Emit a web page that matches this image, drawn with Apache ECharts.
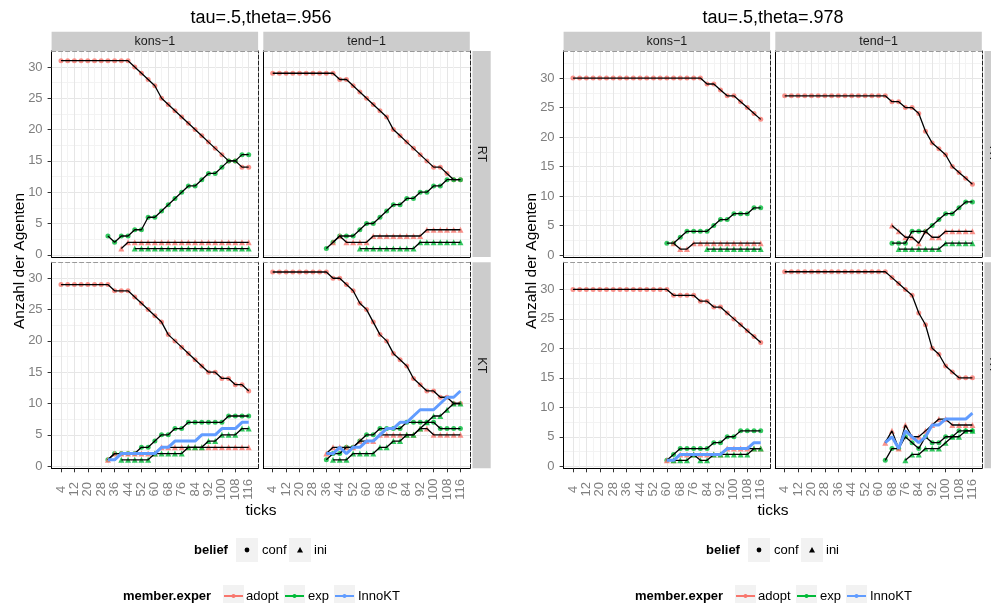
<!DOCTYPE html>
<html>
<head>
<meta charset="utf-8">
<script src="https://cdn.jsdelivr.net/npm/echarts@6/dist/echarts.min.js"></script>
<style>
  html, body { margin:0; padding:0; background:#fff; }
  #main { width:991px; height:603px; }
</style>
</head>
<body>
<div id="main"></div>
<script type="text/javascript">
var _ = null;
// x = ticks, one value every 4 ticks
var ticks = [4,8,12,16,20,24,28,32,36,40,44,48,52,56,60,64,68,72,76,80,84,88,92,96,100,104,108,112,116];
var xLabels = [4,12,20,28,36,44,52,60,68,76,84,92,100,108,116];
var xMinor = [8,16,24,32,40,48,56,64,72,80,88,96,104,112];
var yLabels = [0,5,10,15,20,25,30];
var yMinor = [2.5,7.5,12.5,17.5,22.5,27.5,32.5];
var colNames = ['kons\u22121','tend\u22121'];
var rowNames = ['RT','KT'];
var plotTitles = ['tau=.5,theta=.956','tau=.5,theta=.978'];

// ---- tau=.5, theta=.956 ----
var L_konsRT_adopt_conf = [31,31,31,31,31,31,31,31,31,31,31,30,29,28,27,25,24,23,22,21,20,19,18,17,16,15,15,14,14];
var L_konsRT_exp_conf   = [_,_,_,_,_,_,_,3,2,3,3,4,4,6,6,7,8,9,10,11,11,12,13,13,14,15,15,16,16];
var L_konsRT_adopt_ini  = [_,_,_,_,_,_,_,_,_,1,2,2,2,2,2,2,2,2,2,2,2,2,2,2,2,2,2,2,2];
var L_konsRT_exp_ini    = [_,_,_,_,_,_,_,_,_,_,_,1,1,1,1,1,1,1,1,1,1,1,1,1,1,1,1,1,1];

var L_tendRT_adopt_conf = [29,29,29,29,29,29,29,29,29,29,28,28,27,26,25,24,23,22,20,19,18,17,16,15,14,14,13,12,12];
var L_tendRT_exp_conf   = [_,_,_,_,_,_,_,_,1,2,3,3,3,4,5,5,6,7,8,8,9,9,10,10,11,11,12,12,12];
var L_tendRT_adopt_ini  = [_,_,_,_,_,_,_,_,_,2,3,2,2,2,2,3,3,3,3,3,3,3,3,4,4,4,4,4,4];
var L_tendRT_exp_ini    = [_,_,_,_,_,_,_,_,_,_,_,_,_,1,1,1,1,1,1,1,1,1,2,2,2,2,2,2,2];

var L_konsKT_adopt_conf = [29,29,29,29,29,29,29,29,28,28,28,27,26,25,24,23,21,20,19,18,17,16,15,15,14,14,13,13,12];
var L_konsKT_exp_conf   = [_,_,_,_,_,_,_,1,2,2,2,2,3,3,4,5,5,6,6,7,7,7,7,7,7,8,8,8,8];
var L_konsKT_adopt_ini  = [_,_,_,_,_,_,_,1,2,2,2,2,2,2,2,3,3,3,3,3,3,3,3,3,3,3,3,3,3];
var L_konsKT_exp_ini    = [_,_,_,_,_,_,_,_,_,1,1,1,1,1,2,2,2,2,2,3,3,3,4,4,5,5,5,6,6];
var L_konsKT_inno       = [_,_,_,_,_,_,_,1,1,2,2,2,2,2,2,3,3,4,4,4,4,5,5,5,6,6,6,7,7];

var L_tendKT_adopt_conf = [31,31,31,31,31,31,31,31,31,30,30,29,28,26,25,23,21,20,18,17,16,14,13,12,12,11,11,10,10];
var L_tendKT_exp_conf   = [_,_,_,_,_,_,_,_,1,2,2,3,3,4,5,5,6,6,6,6,7,7,7,7,7,6,6,6,6];
var L_tendKT_adopt_ini  = [_,_,_,_,_,_,_,_,2,3,3,3,3,4,4,4,5,5,5,5,5,5,6,6,5,5,5,5,5];
var L_tendKT_exp_ini    = [_,_,_,_,_,_,_,_,_,1,1,1,2,2,2,2,3,3,4,4,5,5,6,7,8,8,9,10,10];
var L_tendKT_inno       = [_,_,_,_,_,_,_,_,2,2,3,2,3,3,4,4,5,6,6,7,7,8,9,9,9,10,11,11,12];

// ---- tau=.5, theta=.978 ----
var R_konsRT_adopt_conf = [30,30,30,30,30,30,30,30,30,30,30,30,30,30,30,30,30,30,30,30,29,29,28,27,27,26,25,24,23];
var R_konsRT_exp_conf   = [_,_,_,_,_,_,_,_,_,_,_,_,_,_,2,2,3,4,4,4,4,5,6,6,7,7,7,8,8];
var R_konsRT_adopt_ini  = [_,_,_,_,_,_,_,_,_,_,_,_,_,_,_,2,1,1,2,2,2,2,2,2,2,2,2,2,2];
var R_konsRT_exp_ini    = [_,_,_,_,_,_,_,_,_,_,_,_,_,_,_,_,_,_,_,_,1,1,1,1,1,1,1,1,1];

var R_tendRT_adopt_conf = [27,27,27,27,27,27,27,27,27,27,27,27,27,27,27,27,26,26,25,25,24,21,19,18,17,15,14,13,12];
var R_tendRT_exp_conf   = [_,_,_,_,_,_,_,_,_,_,_,_,_,_,_,_,2,2,2,4,4,4,5,6,7,7,8,9,9];
var R_tendRT_adopt_ini  = [_,_,_,_,_,_,_,_,_,_,_,_,_,_,_,_,5,4,3,3,2,4,3,3,4,4,4,4,4];
var R_tendRT_exp_ini    = [_,_,_,_,_,_,_,_,_,_,_,_,_,_,_,_,_,1,1,1,1,1,1,1,2,2,2,2,2];

var R_konsKT_adopt_conf = [30,30,30,30,30,30,30,30,30,30,30,30,30,30,30,29,29,29,29,28,28,27,27,26,25,24,23,22,21];
var R_konsKT_exp_conf   = [_,_,_,_,_,_,_,_,_,_,_,_,_,_,1,2,3,3,3,3,3,4,4,5,5,6,6,6,6];
var R_konsKT_adopt_ini  = [_,_,_,_,_,_,_,_,_,_,_,_,_,_,1,1,2,2,2,2,2,2,2,3,3,3,3,3,3];
var R_konsKT_exp_ini    = [_,_,_,_,_,_,_,_,_,_,_,_,_,_,_,1,1,1,2,1,1,2,2,2,2,2,2,3,3];
var R_konsKT_inno       = [_,_,_,_,_,_,_,_,_,_,_,_,_,_,1,1,2,2,2,2,2,2,2,3,3,3,3,4,4];

var R_tendKT_adopt_conf = [33,33,33,33,33,33,33,33,33,33,33,33,33,33,33,33,32,31,30,29,26,24,20,19,17,16,15,15,15];
var R_tendKT_exp_conf   = [_,_,_,_,_,_,_,_,_,_,_,_,_,_,_,1,3,3,5,4,3,5,4,4,5,5,6,6,6];
var R_tendKT_adopt_ini  = [_,_,_,_,_,_,_,_,_,_,_,_,_,_,_,4,6,3,7,5,5,6,7,8,8,7,7,7,7];
var R_tendKT_exp_ini    = [_,_,_,_,_,_,_,_,_,_,_,_,_,_,_,_,_,_,1,2,2,3,3,3,4,5,5,6,6];
var R_tendKT_inno       = [_,_,_,_,_,_,_,_,_,_,_,_,_,_,_,4,5,3,6,5,4,5,7,7,8,8,8,8,9];

var panels = [
  {p:0, r:0, c:0, lines:[[L_konsRT_adopt_conf,'adopt','conf'],[L_konsRT_exp_conf,'exp','conf'],[L_konsRT_adopt_ini,'adopt','ini'],[L_konsRT_exp_ini,'exp','ini']]},
  {p:0, r:0, c:1, lines:[[L_tendRT_adopt_conf,'adopt','conf'],[L_tendRT_exp_conf,'exp','conf'],[L_tendRT_adopt_ini,'adopt','ini'],[L_tendRT_exp_ini,'exp','ini']]},
  {p:0, r:1, c:0, lines:[[L_konsKT_adopt_conf,'adopt','conf'],[L_konsKT_exp_conf,'exp','conf'],[L_konsKT_adopt_ini,'adopt','ini'],[L_konsKT_exp_ini,'exp','ini'],[L_konsKT_inno,'InnoKT','conf']]},
  {p:0, r:1, c:1, lines:[[L_tendKT_adopt_conf,'adopt','conf'],[L_tendKT_exp_conf,'exp','conf'],[L_tendKT_adopt_ini,'adopt','ini'],[L_tendKT_exp_ini,'exp','ini'],[L_tendKT_inno,'InnoKT','conf']]},
  {p:1, r:0, c:0, lines:[[R_konsRT_adopt_conf,'adopt','conf'],[R_konsRT_exp_conf,'exp','conf'],[R_konsRT_adopt_ini,'adopt','ini'],[R_konsRT_exp_ini,'exp','ini']]},
  {p:1, r:0, c:1, lines:[[R_tendRT_adopt_conf,'adopt','conf'],[R_tendRT_exp_conf,'exp','conf'],[R_tendRT_adopt_ini,'adopt','ini'],[R_tendRT_exp_ini,'exp','ini']]},
  {p:1, r:1, c:0, lines:[[R_konsKT_adopt_conf,'adopt','conf'],[R_konsKT_exp_conf,'exp','conf'],[R_konsKT_adopt_ini,'adopt','ini'],[R_konsKT_exp_ini,'exp','ini'],[R_konsKT_inno,'InnoKT','conf']]},
  {p:1, r:1, c:1, lines:[[R_tendKT_adopt_conf,'adopt','conf'],[R_tendKT_exp_conf,'exp','conf'],[R_tendKT_adopt_ini,'adopt','ini'],[R_tendKT_exp_ini,'exp','ini'],[R_tendKT_inno,'InnoKT','conf']]}
];

var colors = {adopt:'#F8766D', exp:'#00BA38', InnoKT:'#619CFF'};
var FONT = '"Liberation Sans", Arial, sans-serif';

// layout of one ggplot; the second one is shifted right
var plotDx = [0, 512];
var colLeft = [51.6, 263.3], colW = 206.5;
var rowTop = [51, 262.3], rowH = 206;
var yMax = [32.55, 34.6], yMin = -0.35;

var chart = echarts.init(document.getElementById('main'));
var grids = [], xAxes = [], yAxes = [], series = [], graphics = [];

panels.forEach(function (pn, g) {
  var left = colLeft[pn.c] + plotDx[pn.p];
  var top = rowTop[pn.r];
  grids.push({left: left, top: top, width: colW, height: rowH, containLabel: false});
  xAxes.push({
    type: 'value', gridIndex: g, min: -1.6, max: 121.6, position: 'bottom',
    axisLine: {show: true, onZero: false, lineStyle: {color: '#000', width: 1}},
    axisTick: {show: pn.r === 1, length: 4, customValues: xLabels, lineStyle: {color: '#333'}},
    axisLabel: {show: pn.r === 1, customValues: xLabels, rotate: 90, align: 'center', verticalAlign: 'middle',
      margin: 21, color: '#7F7F7F', fontSize: 13, fontFamily: FONT},
    splitLine: {show: true, lineStyle: {color: '#E6E6E6', width: 1}}
  });
  xAxes.push({
    type: 'value', gridIndex: g, min: -1.6, max: 121.6, position: 'top',
    axisLine: {show: true, onZero: false, lineStyle: {color: '#999', width: 1, type: [4, 3]}},
    axisTick: {show: false, customValues: xMinor},
    axisLabel: {show: false},
    splitLine: {show: true, lineStyle: {color: '#F3F3F3', width: 1}}
  });
  yAxes.push({
    type: 'value', gridIndex: g, min: yMin, max: yMax[pn.p], position: 'left',
    axisLine: {show: true, onZero: false, lineStyle: {color: '#000', width: 1}},
    axisTick: {show: pn.c === 0, length: 4, customValues: yLabels, lineStyle: {color: '#333'}},
    axisLabel: {show: pn.c === 0, customValues: yLabels, margin: 9, color: '#7F7F7F', fontSize: 13, fontFamily: FONT},
    splitLine: {show: true, lineStyle: {color: '#E6E6E6', width: 1}}
  });
  yAxes.push({
    type: 'value', gridIndex: g, min: yMin, max: yMax[pn.p], position: 'right',
    axisLine: {show: true, onZero: false, lineStyle: {color: '#222', width: 1, type: [4, 2]}},
    axisTick: {show: false, customValues: yMinor},
    axisLabel: {show: false},
    splitLine: {show: true, lineStyle: {color: '#F3F3F3', width: 1}}
  });

  pn.lines.forEach(function (ln) {
    var arr = ln[0], exper = ln[1], belief = ln[2];
    var pts = ticks.map(function (t, i) { return [t, arr[i]]; });
    if (exper === 'InnoKT') {
      series.push({type: 'line', xAxisIndex: 2 * g, yAxisIndex: 2 * g, data: pts, showSymbol: false,
        lineStyle: {color: colors[exper], width: 3}, z: 5, silent: true});
    } else {
      series.push({type: 'scatter', xAxisIndex: 2 * g, yAxisIndex: 2 * g, data: pts,
        symbol: belief === 'conf' ? 'circle' : 'triangle', symbolSize: belief === 'conf' ? 5 : 6,
        itemStyle: {color: colors[exper]}, z: 2, silent: true});
      series.push({type: 'line', xAxisIndex: 2 * g, yAxisIndex: 2 * g, data: pts, showSymbol: false,
        lineStyle: {color: '#000', width: 1.3}, z: 3, silent: true});
    }
  });

  // facet strips
  if (pn.r === 0) {
    graphics.push({type: 'rect', shape: {x: left, y: 31.7, width: colW, height: 19.3}, style: {fill: '#CCCCCC'}});
    graphics.push({type: 'text', x: left + colW / 2, y: 41.6,
      style: {text: colNames[pn.c], fill: '#1A1A1A', font: '12.5px ' + FONT, align: 'center', verticalAlign: 'middle'}});
  }
  if (pn.c === 1) {
    var sx = left + colW + 2.7;
    graphics.push({type: 'rect', shape: {x: sx, y: top, width: 18.2, height: rowH}, style: {fill: '#CCCCCC'}});
    graphics.push({type: 'text', x: sx + 9.1, y: top + rowH / 2, rotation: -Math.PI / 2,
      style: {text: rowNames[pn.r], fill: '#1A1A1A', font: '12.5px ' + FONT, align: 'center', verticalAlign: 'middle'}});
  }
});

// titles, axis titles and the two legends of each plot
[0, 1].forEach(function (p) {
  var dx = plotDx[p];
  graphics.push({type: 'text', x: 261 + dx, y: 18,
    style: {text: plotTitles[p], fill: '#000', font: '18px ' + FONT, align: 'center', verticalAlign: 'middle'}});
  graphics.push({type: 'text', x: 20 + dx, y: 261, rotation: Math.PI / 2,
    style: {text: 'Anzahl der Agenten', fill: '#000', font: '15.5px ' + FONT, align: 'center', verticalAlign: 'middle'}});
  graphics.push({type: 'text', x: 261 + dx, y: 511,
    style: {text: 'ticks', fill: '#000', font: '15.5px ' + FONT, align: 'center', verticalAlign: 'middle'}});

  // belief legend
  graphics.push({type: 'text', x: 194 + dx, y: 550,
    style: {text: 'belief', fill: '#000', font: 'bold 13px ' + FONT, verticalAlign: 'middle'}});
  graphics.push({type: 'rect', shape: {x: 236 + dx, y: 538, width: 22, height: 24}, style: {fill: '#F2F2F2'}});
  graphics.push({type: 'circle', shape: {cx: 247 + dx, cy: 550, r: 2.4}, style: {fill: '#000'}});
  graphics.push({type: 'text', x: 262 + dx, y: 550,
    style: {text: 'conf', fill: '#000', font: '13px ' + FONT, verticalAlign: 'middle'}});
  graphics.push({type: 'rect', shape: {x: 289 + dx, y: 538, width: 22, height: 24}, style: {fill: '#F2F2F2'}});
  graphics.push({type: 'polygon', shape: {points: [[300 + dx, 547], [303 + dx, 552.5], [297 + dx, 552.5]]}, style: {fill: '#000'}});
  graphics.push({type: 'text', x: 314 + dx, y: 550,
    style: {text: 'ini', fill: '#000', font: '13px ' + FONT, verticalAlign: 'middle'}});

  // member.exper legend
  graphics.push({type: 'text', x: 123 + dx, y: 596,
    style: {text: 'member.exper', fill: '#000', font: 'bold 13px ' + FONT, verticalAlign: 'middle'}});
  var keys = [['adopt', 223, 246], ['exp', 284, 308], ['InnoKT', 334, 358]];
  keys.forEach(function (k) {
    var kx = k[1] + dx;
    graphics.push({type: 'rect', shape: {x: kx, y: 585, width: 21, height: 23}, style: {fill: '#F2F2F2'}});
    graphics.push({type: 'line', shape: {x1: kx + 1, y1: 596, x2: kx + 20, y2: 596}, style: {stroke: colors[k[0]], lineWidth: 2}});
    graphics.push({type: 'circle', shape: {cx: kx + 10.5, cy: 596, r: 2}, style: {fill: colors[k[0]]}});
    graphics.push({type: 'text', x: k[2] + dx, y: 596,
      style: {text: k[0], fill: '#000', font: '13px ' + FONT, verticalAlign: 'middle'}});
  });
});

chart.setOption({
  animation: false,
  backgroundColor: '#FFFFFF',
  textStyle: {fontFamily: FONT},
  grid: grids,
  xAxis: xAxes,
  yAxis: yAxes,
  series: series,
  graphic: graphics
});
</script>
</body>
</html>
